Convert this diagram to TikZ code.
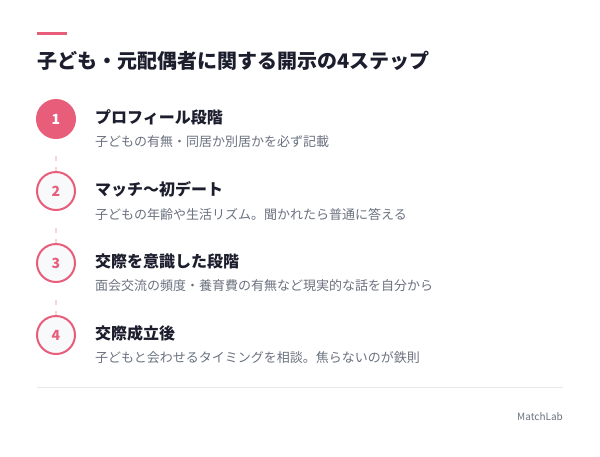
\documentclass[tikz,border=0pt]{standalone}
\usepackage{fontspec}
\setmainfont{Noto Sans CJK JP}
\definecolor{accent}{HTML}{E85D7A}
\definecolor{ink}{HTML}{1C1E2E}
\definecolor{muted}{HTML}{6B7280}
\definecolor{pale}{HTML}{F7D3DB}
\definecolor{circfill}{HTML}{F8F9FB}
\definecolor{rule}{HTML}{E5E7EB}
\tikzset{
  stepcirc/.style={circle, minimum size=38pt, inner sep=0pt, draw=accent, line width=2pt, fill=circfill, text=accent, font=\fontsize{14}{16}\selectfont\bfseries},
  stepcircon/.style={stepcirc, fill=accent, text=white},
  steptitle/.style={anchor=west, inner sep=0pt, text=ink, font=\fontsize{16}{18}\selectfont\bfseries},
  stepdesc/.style={anchor=west, inner sep=0pt, text=muted, font=\fontsize{13}{15}\selectfont},
  link/.style={draw=pale, line width=1.5pt, dash pattern=on 5pt off 6pt}
}
\begin{document}
\begin{tikzpicture}[x=1pt,y=-1pt]
\useasboundingbox[fill=white] (0,0) rectangle (600,456);
\fill[accent] (37,32) rectangle (67,35);
\node[anchor=west, inner sep=0pt, text=ink, font=\fontsize{20}{24}\selectfont\bfseries] (title) at (37,61) {子ども・元配偶者に関する開示の4ステップ};

\node[stepcircon] (c1) at (56,119) {1};
\node[stepcirc] (c2) at (56,191) {2};
\node[stepcirc] (c3) at (56,263) {3};
\node[stepcirc] (c4) at (56,335) {4};

\draw[link] ([yshift=-17pt]c1.south) -- (c2.north);
\draw[link] ([yshift=-17pt]c2.south) -- (c3.north);
\draw[link] ([yshift=-17pt]c3.south) -- (c4.north);

\node[steptitle] (t1) at (95,117) {プロフィール段階};
\node[stepdesc] (d1) at (95,142) {子どもの有無・同居か別居かを必ず記載};
\node[steptitle] (t2) at (95,189) {マッチ〜初デート};
\node[stepdesc] (d2) at (95,214) {子どもの年齢や生活リズム。聞かれたら普通に答える};
\node[steptitle] (t3) at (95,261) {交際を意識した段階};
\node[stepdesc] (d3) at (95,286) {面会交流の頻度・養育費の有無など現実的な話を自分から};
\node[steptitle] (t4) at (95,333) {交際成立後};
\node[stepdesc] (d4) at (95,358) {子どもと会わせるタイミングを相談。焦らないのが鉄則};

\coordinate (r1) at (37,387);
\coordinate (r2) at (563,387);
\draw[rule, line width=1pt] (r1) -- (r2);
\node[anchor=east, inner sep=0pt, text=muted, font=\fontsize{10}{12}\selectfont] (brand) at (563,417) {MatchLab};
\end{tikzpicture}
\end{document}
